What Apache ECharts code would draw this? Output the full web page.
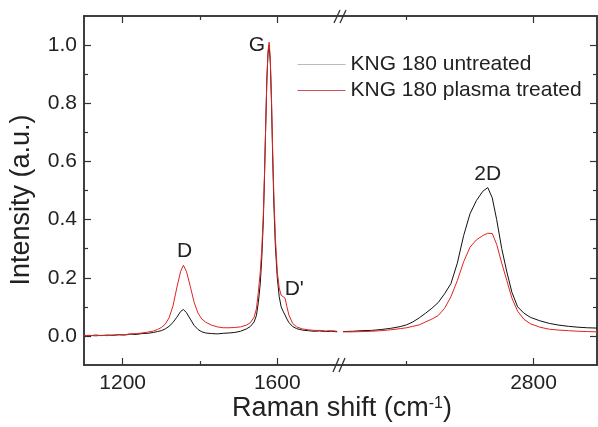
<!DOCTYPE html>
<html>
<head>
<meta charset="utf-8">
<script src="https://cdn.jsdelivr.net/npm/echarts@6.0.0/dist/echarts.min.js"></script>
<style>
html,body{margin:0;padding:0;background:#fff;}
#chart{width:598px;height:427px;}
</style>
</head>
<body>
<div id="chart"></div>
<script>
// Raman shift (cm-1), low wavenumber segment
var shiftLeft = [1100,1115,1130,1145,1160,1175,1190,1205,1220,1235,1250,1265,1280,1290,1300,1310,1320,1330,1340,1350,1357,1365,1375,1385,1395,1405,1415,1430,1445,1460,1475,1490,1505,1520,1530,1540,1546,1551,1556,1560,1564,1567,1570,1573,1576,1579,1582,1585,1588,1591,1595,1600,1605,1610,1615,1620,1625,1630,1640,1650,1665,1680,1695,1710,1725,1740,1755];
var untreatedLeft = [0.002,0.000,0.003,0.001,0.003,0.002,0.004,0.003,0.006,0.005,0.008,0.009,0.012,0.015,0.018,0.024,0.033,0.046,0.064,0.084,0.091,0.080,0.058,0.036,0.022,0.014,0.010,0.008,0.007,0.009,0.010,0.012,0.016,0.024,0.032,0.048,0.070,0.115,0.18,0.27,0.40,0.55,0.72,0.88,0.97,1.00,0.94,0.80,0.62,0.46,0.31,0.20,0.135,0.10,0.085,0.072,0.058,0.046,0.032,0.025,0.020,0.018,0.016,0.017,0.015,0.016,0.014];
var treatedLeft = [0.001,0.002,0.000,0.002,0.001,0.003,0.004,0.004,0.007,0.008,0.010,0.013,0.017,0.022,0.029,0.040,0.062,0.102,0.165,0.222,0.243,0.222,0.170,0.115,0.078,0.058,0.047,0.037,0.031,0.028,0.028,0.029,0.031,0.037,0.045,0.064,0.093,0.15,0.22,0.30,0.42,0.56,0.72,0.88,0.98,1.01,0.95,0.82,0.64,0.49,0.34,0.22,0.165,0.14,0.136,0.13,0.10,0.072,0.043,0.031,0.024,0.021,0.019,0.019,0.017,0.018,0.016];

// high wavenumber segment (2D band)
var shiftRight = [2500,2515,2530,2545,2560,2575,2590,2600,2610,2620,2630,2640,2650,2660,2670,2680,2690,2700,2710,2720,2728,2735,2742,2750,2758,2766,2775,2785,2795,2810,2825,2840,2855,2870,2885,2900];
var untreatedRight = [0.015,0.016,0.018,0.019,0.022,0.026,0.032,0.038,0.048,0.062,0.078,0.095,0.115,0.145,0.18,0.25,0.345,0.42,0.465,0.497,0.51,0.475,0.40,0.30,0.22,0.15,0.10,0.078,0.064,0.052,0.043,0.037,0.033,0.030,0.028,0.027];
var treatedRight = [0.014,0.014,0.015,0.016,0.018,0.021,0.025,0.028,0.033,0.038,0.048,0.058,0.070,0.095,0.135,0.19,0.255,0.305,0.33,0.345,0.353,0.352,0.315,0.25,0.19,0.13,0.085,0.057,0.042,0.030,0.023,0.020,0.018,0.016,0.015,0.014];

// ticks
var leftMajor = [1200, 1600];
var leftMinor = [1400];
var rightMajor = [2800];
var rightMinor = [2600];
var yMajor = [0, 0.2, 0.4, 0.6, 0.8, 1.0];
var yMinor = [0.1, 0.3, 0.5, 0.7, 0.9];

// peak labels
var peakNames = ['D', 'G', "D'", '2D'];
var peakShift = [1360, 1547, 1644, 2728];
var peakHeight = [0.29, 0.998, 0.162, 0.555];

var FONT = 'Liberation Sans, Arial, sans-serif';
var AXIS_COLOR = '#333';
var TEXT_COLOR = '#222';

function pairs(xs, ys) {
	return xs.map(function(x, i) { return [x, ys[i]]; });
}

//x轴: 主刻度/次刻度各一根
function xAxisOf(grid, min, max, pos, ticks, len, labels) {
	return {
		type: 'value', gridIndex: grid, min: min, max: max, position: pos,
		axisLine: { show: true, onZero: false, lineStyle: { color: AXIS_COLOR, width: 1.5 } },
		axisTick: { show: true, inside: true, length: len, customValues: ticks,
			lineStyle: { color: AXIS_COLOR, width: 1.2 } },
		axisLabel: labels ? { show: true, customValues: ticks, margin: 8,
			fontSize: 21, fontFamily: FONT, color: TEXT_COLOR,
			formatter: function(v) { return String(v); } } : { show: false },
		splitLine: { show: false }
	};
}
function yAxisOf(grid, pos, ticks, len, labels) {
	return {
		type: 'value', gridIndex: grid, min: -0.1, max: 1.1, position: pos,
		axisLine: { show: true, onZero: false, lineStyle: { color: AXIS_COLOR, width: 1.5 } },
		axisTick: { show: true, inside: true, length: len, customValues: ticks,
			lineStyle: { color: AXIS_COLOR, width: 1.2 } },
		axisLabel: labels ? { show: true, customValues: ticks, margin: 7,
			fontSize: 21, fontFamily: FONT, color: TEXT_COLOR,
			formatter: function(v) { return v.toFixed(1); } } : { show: false },
		splitLine: { show: false }
	};
}

function peakMarks(idx) {
	return {
		symbol: 'circle', symbolSize: 0, silent: true,
		label: { show: true, position: 'inside', fontSize: 21, fontFamily: FONT, color: TEXT_COLOR,
			formatter: function(p) { return p.name; } },
		data: idx.map(function(i) {
			return { name: peakNames[i], coord: [peakShift[i], peakHeight[i]] };
		})
	};
}

var myChart = echarts.init(document.getElementById('chart'), null, { renderer: 'canvas' });
var option = {
	animation: false,
	backgroundColor: '#fff',
	grid: [
		{ left: 84, top: 16, width: 259, height: 349 },
		{ left: 343, top: 16, width: 254, height: 349 }
	],
	xAxis: [
		xAxisOf(0, 1100, 1770, 'bottom', leftMajor, 7, true),
		xAxisOf(0, 1100, 1770, 'bottom', leftMinor, 4, false),
		xAxisOf(0, 1100, 1770, 'top', leftMajor, 7, false),
		xAxisOf(0, 1100, 1770, 'top', leftMinor, 4, false),
		xAxisOf(1, 2500, 2900, 'bottom', rightMajor, 7, true),
		xAxisOf(1, 2500, 2900, 'bottom', rightMinor, 4, false),
		xAxisOf(1, 2500, 2900, 'top', rightMajor, 7, false),
		xAxisOf(1, 2500, 2900, 'top', rightMinor, 4, false)
	],
	yAxis: [
		yAxisOf(0, 'left', yMajor, 7, true),
		yAxisOf(0, 'left', yMinor, 4, false),
		yAxisOf(1, 'right', yMajor, 7, false),
		yAxisOf(1, 'right', yMinor, 4, false)
	],
	legend: {
		orient: 'vertical', left: 292, top: 49, itemWidth: 48, itemHeight: 10, itemGap: 5,
		textStyle: { fontSize: 21, fontFamily: FONT, color: TEXT_COLOR },
		data: [
			{ name: 'KNG 180 untreated', itemStyle: { opacity: 0 }, lineStyle: { color: '#bbb', width: 1 } },
			{ name: 'KNG 180 plasma treated', itemStyle: { opacity: 0 }, lineStyle: { color: '#c9555c', width: 1 } }
		]
	},
	series: [
		{ name: 'KNG 180 untreated', type: 'line', xAxisIndex: 0, yAxisIndex: 0,
			data: pairs(shiftLeft, untreatedLeft), symbol: 'none',
			lineStyle: { color: '#111', width: 1 }, itemStyle: { color: '#111' } },
		{ name: 'KNG 180 plasma treated', type: 'line', xAxisIndex: 0, yAxisIndex: 0,
			data: pairs(shiftLeft, treatedLeft), symbol: 'none',
			lineStyle: { color: '#e0241e', width: 1 }, itemStyle: { color: '#e0241e' },
			markPoint: peakMarks([0, 1, 2]) },
		{ name: 'KNG 180 untreated', type: 'line', xAxisIndex: 4, yAxisIndex: 2,
			data: pairs(shiftRight, untreatedRight), symbol: 'none',
			lineStyle: { color: '#111', width: 1 }, itemStyle: { color: '#111' } },
		{ name: 'KNG 180 plasma treated', type: 'line', xAxisIndex: 4, yAxisIndex: 2,
			data: pairs(shiftRight, treatedRight), symbol: 'none',
			lineStyle: { color: '#e0241e', width: 1 }, itemStyle: { color: '#e0241e' },
			markPoint: peakMarks([3]) }
	],
	graphic: [
		// 断轴标记 //
		{ type: 'line', shape: { x1: 334, y1: 23, x2: 340, y2: 10 }, style: { stroke: AXIS_COLOR, lineWidth: 1.3 } },
		{ type: 'line', shape: { x1: 340, y1: 23, x2: 346, y2: 10 }, style: { stroke: AXIS_COLOR, lineWidth: 1.3 } },
		{ type: 'line', shape: { x1: 333, y1: 372, x2: 339, y2: 358 }, style: { stroke: AXIS_COLOR, lineWidth: 1.3 } },
		{ type: 'line', shape: { x1: 339, y1: 372, x2: 345, y2: 358 }, style: { stroke: AXIS_COLOR, lineWidth: 1.3 } },
		{ type: 'text', x: 342, y: 409, style: {
			text: '{a|Raman shift (cm}{b|-1}{a|)}', align: 'center', verticalAlign: 'middle',
			rich: {
				a: { fontSize: 27, fontFamily: FONT, fill: TEXT_COLOR },
				b: { fontSize: 16, fontFamily: FONT, fill: TEXT_COLOR, verticalAlign: 'top' }
			} } },
		{ type: 'text', x: 22, y: 200, rotation: Math.PI / 2, style: {
			text: 'Intensity (a.u.)', align: 'center', verticalAlign: 'middle',
			fontSize: 27, fontFamily: FONT, fill: TEXT_COLOR } }
	]
};
myChart.setOption(option);
</script>
</body>
</html>
